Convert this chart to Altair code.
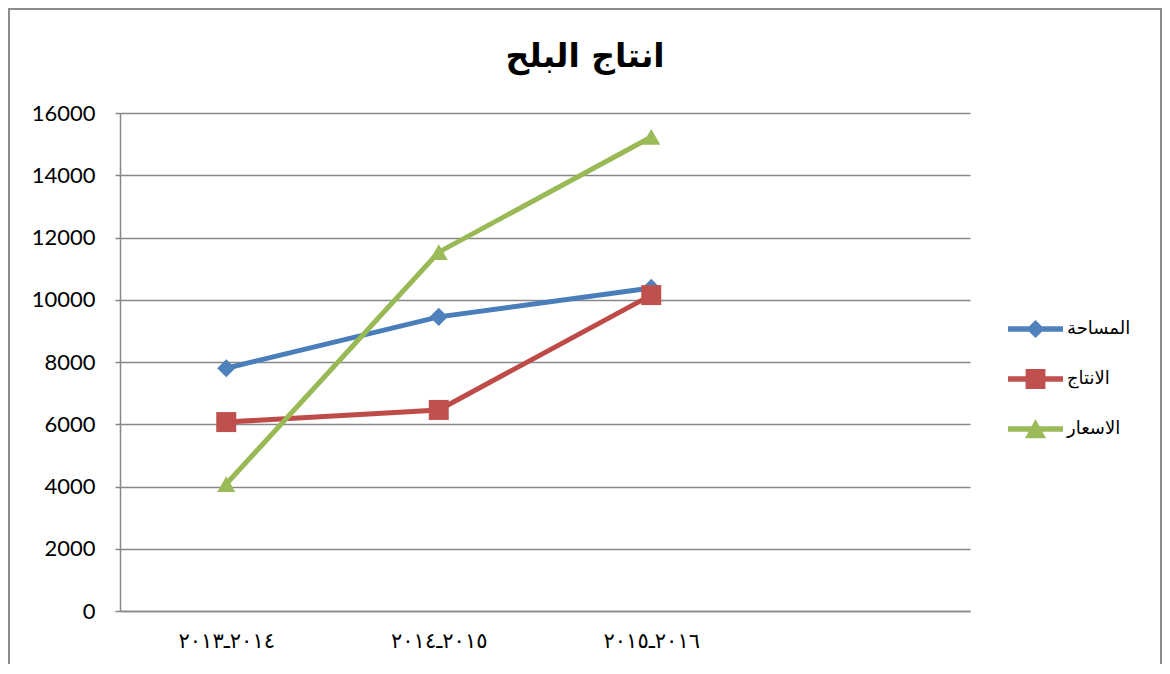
import altair as alt
import pandas as pd

# ---- data ----
categories = ["٢٠١٣ـ٢٠١٤", "٢٠١٤ـ٢٠١٥", "٢٠١٥ـ٢٠١٦"]
slots = categories + [" "]  # Excel axis shows a fourth, empty category slot
series = ["المساحة", "الانتاج", "الاسعار"]
area = [7800, 9450, 10380]
production = [6070, 6460, 10150]
prices = [4080, 11530, 15230]
y_ticks = [0, 2000, 4000, 6000, 8000, 10000, 12000, 14000, 16000]
title_text = "انتاج البلح"

line_colors = ["#4A7EBB", "#BE4B48", "#98B954"]
marker_colors = ["#4F81BD", "#C0504D", "#9BBB59"]
marker_shapes = ["diamond", "square", "triangle-up"]
marker_sizes = [330, 400, 330]

rows = []
for s, vals in zip(series, [area, production, prices]):
    for c, v in zip(categories, vals):
        rows.append({"period": c, "series": s, "value": v})
df = pd.DataFrame(rows)

bar = "M-1,-0.1L1,-0.1L1,0.1L-1,0.1Z"
legend_paths = [
    bar + "M-0.33,0L0,-0.33L0.33,0L0,0.33Z",
    bar + "M-0.36,-0.36L0.36,-0.36L0.36,0.36L-0.36,0.36Z",
    bar + "M0,-0.36L0.38,0.34L-0.38,0.34Z",
]

x_enc = alt.X(
    "period:N",
    sort=slots,
    scale=alt.Scale(domain=slots, type="point", padding=0.5),
    axis=alt.Axis(
        title=None, labelAngle=0, ticks=False, grid=False,
        labelExpr="'\u202d' + datum.label + '\u202c'",
        labelFont="DejaVu Sans", labelFontSize=21, labelColor="#000000",
        labelPadding=19, domainColor="#888888", domainWidth=1.5,
    ),
)
y_enc = alt.Y(
    "value:Q",
    scale=alt.Scale(domain=[0, 16000], nice=False),
    axis=alt.Axis(
        title=None, values=y_ticks, format="d",
        labelFont="Lato", labelFontSize=22, labelColor="#000000",
        labelPadding=20, tickSize=5, tickColor="#888888", tickWidth=1.5,
        domainColor="#888888", domainWidth=1.5,
        grid=True, gridColor="#888888", gridWidth=1.5,
    ),
)

base = alt.Chart(df)
one = alt.Chart(pd.DataFrame({"k": [0]}))

frame = one.mark_rect(
    fill=None, stroke="#8c8c8c", strokeWidth=2
).encode(
    x=alt.value(-111), x2=alt.value(1041), y=alt.value(-104), y2=alt.value(700)
)

title = one.mark_text(
    text=title_text, font="DejaVu Sans", fontSize=33, fontWeight="bold",
    color="#000000", align="center", baseline="middle",
).encode(x=alt.value(465), y=alt.value(-56))

layers = [frame, title]
for s, lc, mc, shp, sz in zip(series, line_colors, marker_colors, marker_shapes, marker_sizes):
    sub = base.transform_filter(alt.datum.series == s)
    layers.append(
        sub.mark_line(strokeWidth=5, color=lc).encode(x=x_enc, y=y_enc)
    )
    layers.append(
        sub.mark_point(filled=True, opacity=1, shape=shp, size=sz, color=mc, strokeWidth=0).encode(
            x=x_enc, y=y_enc
        )
    )

legend_layer = base.transform_filter("false").mark_point(
    filled=True, opacity=1, size=3025, strokeWidth=0
).encode(
    x=x_enc,
    y=y_enc,
    color=alt.Color(
        "series:N",
        scale=alt.Scale(domain=series, range=marker_colors),
        legend=alt.Legend(
            title=None, orient="none", legendX=888, legendY=196,
            symbolSize=3025, symbolStrokeWidth=0, clipHeight=40,
            rowPadding=10, labelOffset=4, padding=0,
            labelFont="DejaVu Sans", labelFontSize=18, labelColor="#000000",
            labelLimit=200,
        ),
    ),
    shape=alt.Shape(
        "series:N",
        scale=alt.Scale(domain=series, range=legend_paths),
    ),
)
layers.append(legend_layer)

chart = alt.layer(*layers).properties(
    width=850,
    height=498,
    background="#ffffff",
    autosize=alt.AutoSizeParams(type="none"),
    padding={"left": 112, "top": 105, "right": 192, "bottom": 53},
).configure_view(strokeWidth=0, stroke="transparent")

chart.save("out.html", embed_options={"renderer": "svg", "actions": False})
